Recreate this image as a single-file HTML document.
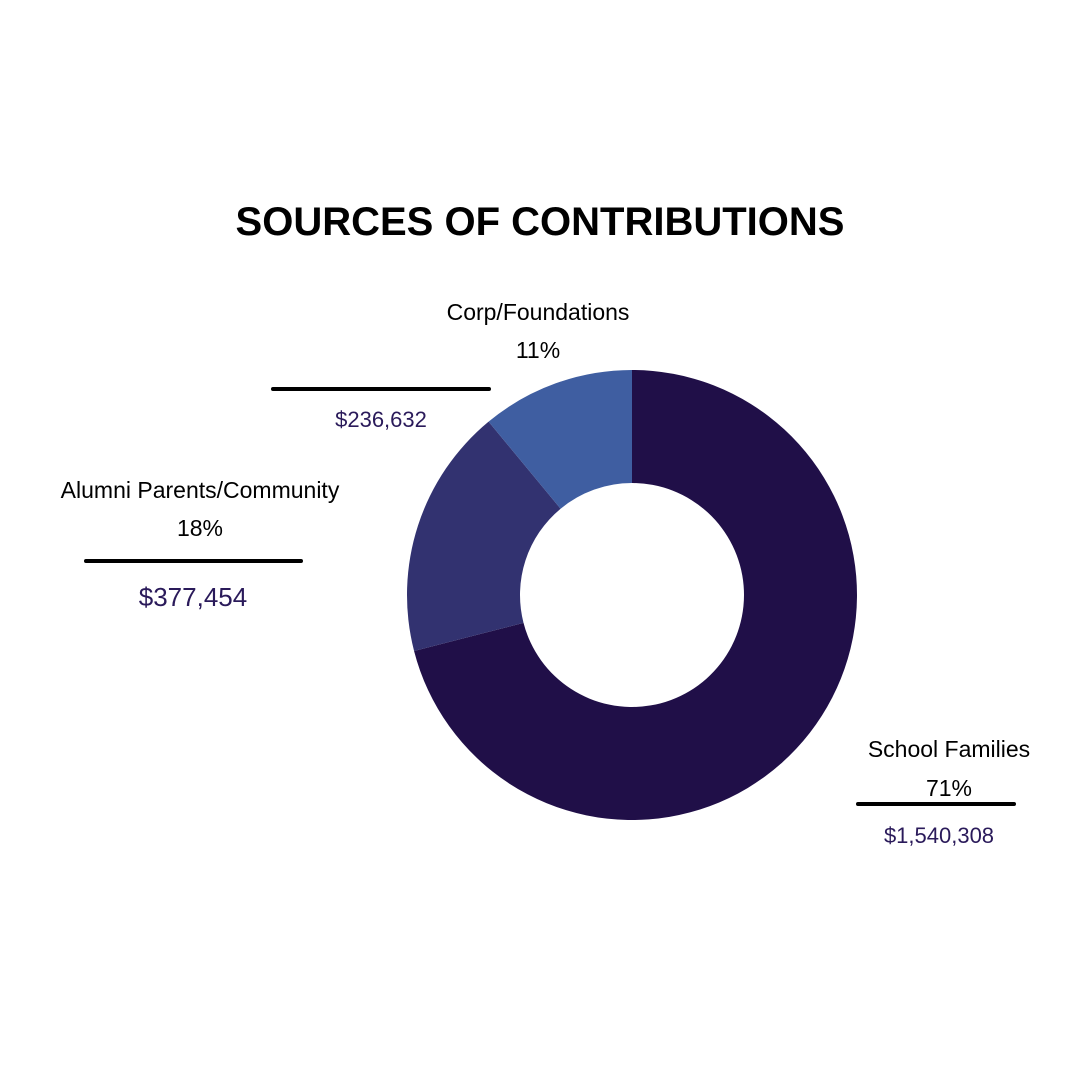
<!DOCTYPE html>
<html><head><meta charset="utf-8"><style>
body{margin:0;background:#fff;}
svg{display:block;font-family:"Liberation Sans",sans-serif;}
</style></head><body>
<svg id="c" width="1080" height="1080">
<rect width="1080" height="1080" fill="#fff"/>
<text x="540" y="235" text-anchor="middle" font-size="40" font-weight="bold" fill="#000">SOURCES OF CONTRIBUTIONS</text>
<g id="slices"></g>
<g id="labels"></g>
</svg>
<script>
const categories=["School Families","Alumni Parents/Community","Corp/Foundations"];
const percents=[71,18,11];
const amounts=["$1,540,308","$377,454","$236,632"];
const colors=["#200f48","#323270","#3f5ea1"];
const cx=632,cy=595,R=225,r=112;
const ns="http://www.w3.org/2000/svg";
const g=document.getElementById('slices');
const total=percents.reduce((a,b)=>a+b,0);
function pt(rad,a){return [cx+rad*Math.sin(a),cy-rad*Math.cos(a)];}
let acc=0;
percents.forEach((p,i)=>{
 const a0=acc/total*2*Math.PI; acc+=p; const a1=acc/total*2*Math.PI;
 const lg=(a1-a0)>Math.PI?1:0;
 const [x0,y0]=pt(R,a0),[x1,y1]=pt(R,a1),[x2,y2]=pt(r,a1),[x3,y3]=pt(r,a0);
 const path=document.createElementNS(ns,'path');
 path.setAttribute('d',`M${x0},${y0}A${R},${R} 0 ${lg} 1 ${x1},${y1}L${x2},${y2}A${r},${r} 0 ${lg} 0 ${x3},${y3}Z`);
 path.setAttribute('fill',colors[i]);
 
 
 g.appendChild(path);
});
// label layouts: [centerX, nameY, pctY, lineX1, lineX2, lineY, amtX, amtY, amtSize]
const layout=[[949,757,796,858,1014,804,939,843,22],[200,498,536,86,301,561,193,606,26],[538,320,358,273,489,389,381,427,22]];
const lg2=document.getElementById('labels');
function txt(x,y,s,fill,size,name){const t=document.createElementNS(ns,'text');t.setAttribute('x',x);t.setAttribute('y',y);t.setAttribute('text-anchor','middle');t.setAttribute('font-size',size);t.setAttribute('fill',fill);t.textContent=s;lg2.appendChild(t);}
categories.forEach((c,i)=>{
 const L=layout[i];
 txt(L[0],L[1],c,'#000',23,'label-name-'+i);
 txt(L[0],L[2],percents[i]+'%','#000',23,'label-percent-'+i);
 const ln=document.createElementNS(ns,'line');
 ln.setAttribute('x1',L[3]);ln.setAttribute('x2',L[4]);ln.setAttribute('y1',L[5]);ln.setAttribute('y2',L[5]);
 ln.setAttribute('stroke','#000');ln.setAttribute('stroke-width','4');ln.setAttribute('stroke-linecap','round');
 
 
 lg2.appendChild(ln);
 txt(L[6],L[7],amounts[i],'#2a1a5a',L[8],'label-amount-'+i);
});
</script>
</body></html>
